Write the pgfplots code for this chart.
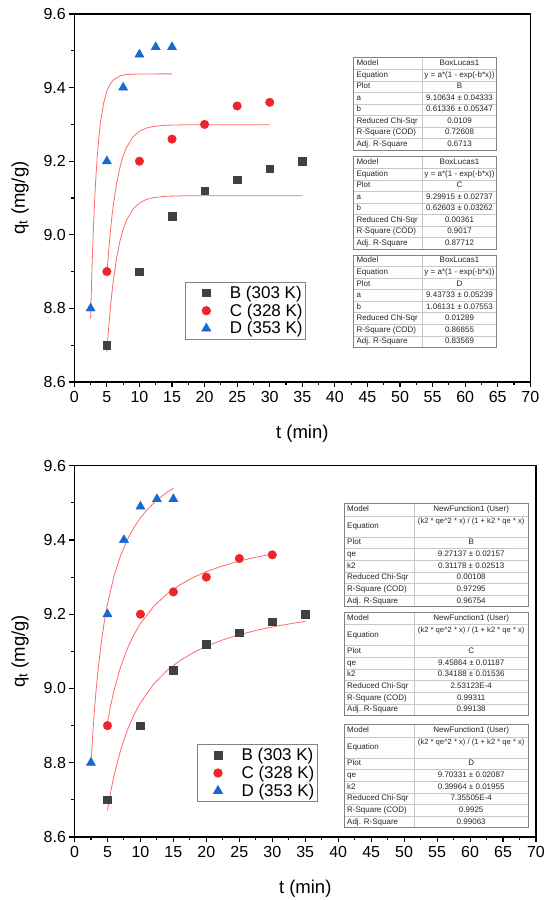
\documentclass[border=0pt]{standalone}
\usepackage{fontspec}
\setmainfont{Liberation Sans}
\usepackage{pgfplots}
\pgfplotsset{compat=1.18}

\definecolor{cB}{RGB}{64,64,64}
\definecolor{cC}{RGB}{237,36,41}
\definecolor{cD}{RGB}{23,103,215}
\definecolor{cfit}{RGB}{255,105,105}
\definecolor{tabout}{RGB}{130,130,130}
\definecolor{tabin}{RGB}{200,200,200}

\pgfplotsset{
  kin/.style={
    scale only axis,
    xmin=0, xmax=70, ymin=8.6, ymax=9.6,
    xtick={0,5,...,70},
    ytick={8.6,8.8,9.0,9.2,9.4,9.6},
    minor x tick num=1, minor y tick num=1,
    tick align=outside, tick pos=left,
    major tick length=5pt, minor tick length=3pt,
    axis line style={black, line width=1.3pt},
    tick style={black, line width=1.1pt},
    /pgf/number format/assume math mode=true,
    tick label style={font=\fontsize{16}{16}\selectfont},
    xticklabel style={yshift=-1pt},
    yticklabel style={/pgf/number format/fixed, /pgf/number format/fixed zerofill, /pgf/number format/precision=1},
    xlabel={t (min)}, ylabel={q\textsubscript{t} (mg/g)},
    label style={font=\fontsize{18.5}{18.5}\selectfont},
    xlabel style={at={(axis description cs:0.5,0)}, anchor=center, yshift=-51.5pt},
    legend cell align=left,
  },
  lm/.style={legend image code/.code={\path[draw=none,fill=none] (-19pt,0pt) -- (0pt,0pt); \draw[##1, only marks] plot coordinates {(0pt,0pt)};}},
  pB/.style={only marks, mark=square*, mark size=3.8pt, color=cB, lm},
  pC/.style={only marks, mark=*, mark size=4.3pt, color=cC, lm},
  pD/.style={only marks, mark=triangle*, mark size=5.3pt, color=cD, lm},
  fit/.style={color=cfit, line width=0.8pt, mark=none, forget plot},
  leg/.style={legend style={at={#1}, anchor=north west, draw=tabout, line width=0.6pt, fill=white,
      inner xsep=2pt, inner ysep=3pt, row sep=2pt, column sep=18pt,
      font=\fontsize{17}{17}\selectfont, nodes={inner sep=1pt}}},
}

\newcommand{\tabfont}{\fontsize{8}{9}\selectfont}

% panel 1 table: #1 top (px), #2 plot, #3 a, #4 b, #5 chi, #6 r2, #7 adj
\newcommand{\tabA}[7]{%
  \begin{scope}[shift={(353.3pt,{900pt-#1pt})}, x=1pt, y=1pt,
      every node/.style={font=\tabfont, inner sep=0pt, text=black!85, text height=6pt, text depth=1.7pt}]
    \fill[white] (0,0) rectangle (143.4,-92.4);
    \foreach \k in {1,...,7}{\draw[tabin, line width=0.5pt] (0,{-\k*11.55}) -- (143.4,{-\k*11.55});}
    \draw[tabin, line width=0.5pt] (69,0) -- (69,-92.4);
    \draw[tabout, line width=0.7pt] (0,0) rectangle (143.4,-92.4);
    \node[anchor=west] at (3,-5.775) {Model};            \node at (106.2,-5.775) {BoxLucas1};
    \node[anchor=west] at (3,-17.325) {Equation};        \node at (106.2,-17.325) {y = a*(1 - exp(-b*x))};
    \node[anchor=west] at (3,-28.875) {Plot};            \node at (106.2,-28.875) {#2};
    \node[anchor=west] at (3,-40.425) {a};               \node at (106.2,-40.425) {#3};
    \node[anchor=west] at (3,-51.975) {b};               \node at (106.2,-51.975) {#4};
    \node[anchor=west] at (3,-63.525) {Reduced Chi-Sqr}; \node at (106.2,-63.525) {#5};
    \node[anchor=west] at (3,-75.075) {R-Square (COD)};  \node at (106.2,-75.075) {#6};
    \node[anchor=west] at (3,-86.625) {Adj. R-Square};   \node at (106.2,-86.625) {#7};
  \end{scope}}

% panel 2 table
\newcommand{\tabB}[7]{%
  \begin{scope}[shift={(344pt,{900pt-#1pt})}, x=1pt, y=1pt,
      every node/.style={font=\tabfont, inner sep=0pt, text=black!85, text height=6pt, text depth=1.7pt}]
    \fill[white] (0,0) rectangle (184,-103.5);
    \foreach \yy in {12.5,33.5,45.17,56.83,68.5,80.17,91.83}{\draw[tabin, line width=0.5pt] (0,-\yy) -- (184,-\yy);}
    \draw[tabin, line width=0.5pt] (70.3,0) -- (70.3,-103.5);
    \draw[tabout, line width=0.7pt] (0,0) rectangle (184,-103.5);
    \node[anchor=west] at (3,-6.25) {Model};             \node at (127.2,-6.25) {NewFunction1 (User)};
    \node[anchor=west] at (3,-23.25) {Equation};
    \node[font=\fontsize{7.6}{9}\selectfont] at (127.2,-18.5) {(k2 * qe\textasciicircum 2 * x) / (1 + k2 * qe * x)};
    \node[anchor=west] at (3,-39.33) {Plot};             \node at (127.2,-39.33) {#2};
    \node[anchor=west] at (3,-51) {qe};                  \node at (127.2,-51) {#3};
    \node[anchor=west] at (3,-62.67) {k2};               \node at (127.2,-62.67) {#4};
    \node[anchor=west] at (3,-74.33) {Reduced Chi-Sqr};  \node at (127.2,-74.33) {#5};
    \node[anchor=west] at (3,-86) {R-Square (COD)};      \node at (127.2,-86) {#6};
    \node[anchor=west] at (3,-97.67) {Adj. R-Square};    \node at (127.2,-97.67) {#7};
  \end{scope}}

\begin{document}
\begin{tikzpicture}
\useasboundingbox (0,0) rectangle (550pt,900pt);

% ---------------- Panel 1 : Box-Lucas fits ----------------
\begin{axis}[kin, at={(74.3pt,518pt)}, anchor=south west, width=456pt, height=368pt,
    ylabel style={at={(axis description cs:-0.119,0.5)}, anchor=center},
    leg={(axis description cs:0.2428,0.2726)}]
  \addplot[pB] coordinates {(5,8.70)(10,8.90)(15,9.05)(20,9.12)(25,9.15)(30,9.18)(35,9.20)};
  \addlegendentry{B (303 K)}
  \addplot[pC] coordinates {(5,8.90)(10,9.20)(15,9.26)(20,9.30)(25,9.35)(30,9.36)};
  \addlegendentry{C (328 K)}
  \addplot[pD] coordinates {(2.5,8.80)(5,9.20)(7.5,9.40)(10,9.49)(12.5,9.51)(15,9.51)};
  \addlegendentry{D (353 K)}
  \addplot[fit] coordinates {(5,8.6824)(5.25,8.7425)(5.5,8.7943)(5.75,8.8386)(6,8.8768)(6.5,8.9373)(7,8.9820)(7.5,9.0148)(8,9.0390)(9,9.0699)(10,9.0866)(11,9.0956)(12,9.1006)(14,9.1046)(17,9.1061)(20,9.1063)(35,9.1063)};
  \addplot[fit] coordinates {(5,8.8927)(5.25,8.9516)(5.5,9.0019)(5.75,9.0451)(6,9.0818)(6.5,9.1402)(7,9.1829)(7.5,9.2142)(8,9.2370)(9,9.2659)(10,9.2814)(11,9.2897)(12,9.2941)(14,9.2977)(17,9.2990)(30,9.2992)};
  \addplot[fit] coordinates {(2.5,8.7728)(2.75,8.9276)(3,9.0464)(3.25,9.1375)(3.5,9.2074)(3.75,9.2610)(4,9.3021)(4.5,9.3578)(5,9.3905)(5.5,9.4098)(6,9.4211)(7,9.4317)(8,9.4354)(10,9.4371)(15,9.4373)};
\end{axis}

% ---------------- Panel 2 : pseudo-second-order fits ----------------
\begin{axis}[kin, at={(74.5pt,63pt)}, anchor=south west, width=461.5pt, height=371.3pt,
    ylabel style={at={(axis description cs:-0.118,0.5)}, anchor=center},
    leg={(axis description cs:0.2648,0.2505)}]
  \addplot[pB] coordinates {(5,8.70)(10,8.90)(15,9.05)(20,9.12)(25,9.15)(30,9.18)(35,9.20)};
  \addlegendentry{B (303 K)}
  \addplot[pC] coordinates {(5,8.90)(10,9.20)(15,9.26)(20,9.30)(25,9.35)(30,9.36)};
  \addlegendentry{C (328 K)}
  \addplot[pD] coordinates {(2.5,8.80)(5,9.20)(7.5,9.40)(10,9.49)(12.5,9.51)(15,9.51)};
  \addlegendentry{D (353 K)}
  \addplot[fit] coordinates {(5,8.6714)(5.5,8.7227)(6,8.7659)(7,8.8347)(8,8.8871)(9,8.9282)(10,8.9614)(12,9.0116)(14,9.0478)(16,9.0751)(18,9.0965)(20,9.1137)(22.5,9.1310)(25,9.1448)(27.5,9.1562)(30,9.1657)(32.5,9.1737)(35,9.1806)};
  \addplot[fit] coordinates {(5,8.9077)(5.5,8.9551)(6,8.9950)(7,9.0585)(8,9.1066)(9,9.1444)(10,9.1749)(12,9.2210)(14,9.2542)(16,9.2793)(18,9.2989)(20,9.3146)(22.5,9.3304)(25,9.3431)(27.5,9.3535)(30,9.3621)};
  \addplot[fit] coordinates {(2.5,8.7960)(2.75,8.8714)(3,8.9353)(3.25,8.9900)(3.5,9.0374)(4,9.1156)(4.5,9.1774)(5,9.2274)(6,9.3035)(7,9.3586)(8,9.4003)(9,9.4330)(10,9.4594)(11,9.4810)(12,9.4992)(13,9.5146)(14,9.5278)(15,9.5393)};
\end{axis}

% ---------------- fit report tables ----------------
\tabA{57.7}{B}{9.10634 ± 0.04333}{0.61336 ± 0.05347}{0.0109}{0.72608}{0.6713}
\tabA{156.7}{C}{9.29915 ± 0.02737}{0.62603 ± 0.03262}{0.00361}{0.9017}{0.87712}
\tabA{255}{D}{9.43733 ± 0.05239}{1.06131 ± 0.07553}{0.01289}{0.86855}{0.83569}

\tabB{503.3}{B}{9.27137 ± 0.02157}{0.31178 ± 0.02513}{0.00108}{0.97295}{0.96754}
\tabB{612}{C}{9.45864 ± 0.01187}{0.34188 ± 0.01536}{2.53123E-4}{0.99311}{0.99138}
\tabB{724.3}{D}{9.70331 ± 0.02087}{0.39964 ± 0.01955}{7.35505E-4}{0.9925}{0.99063}
\end{tikzpicture}
\end{document}
